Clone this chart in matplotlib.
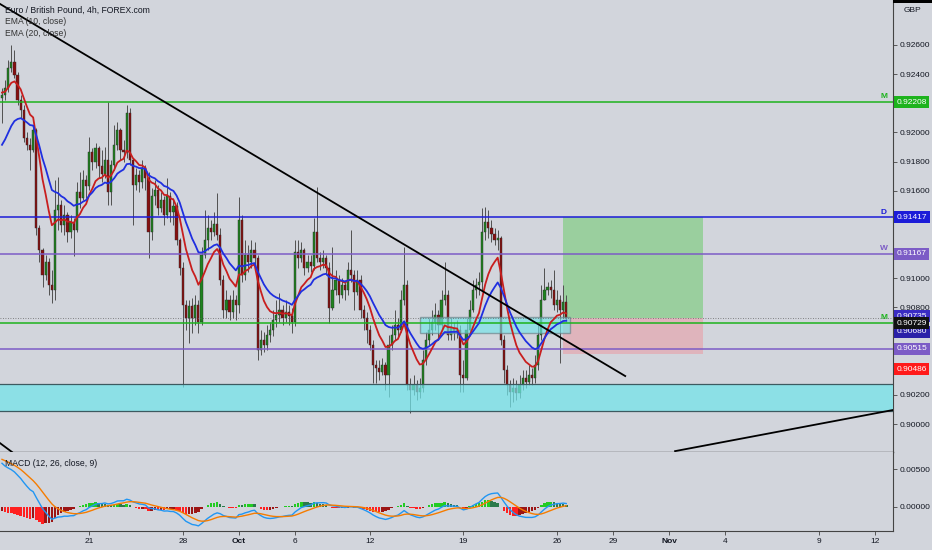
import numpy as np
import matplotlib
matplotlib.use('Agg')
import matplotlib.pyplot as plt
from matplotlib.patches import Rectangle

plt.rcParams['font.family'] = ['Liberation Sans', 'DejaVu Sans']

# EUR/GBP 4h candles, Sep 14 - Oct 26
first_open = 0.92236
closes = [
    0.92256, 0.92304, 0.92441, 0.92483, 0.92393, 0.92222, 0.92153, 0.91961, 0.91913, 0.91879,
    0.92016, 0.91344, 0.91193, 0.91022, 0.91111, 0.90953, 0.90919, 0.91467, 0.91502, 0.91365,
    0.91433, 0.91317, 0.91385, 0.91330, 0.91591, 0.91550, 0.91673, 0.91632, 0.91865, 0.91797,
    0.91893, 0.91769, 0.91714, 0.91810, 0.91591, 0.91776, 0.91913, 0.92016, 0.91879, 0.91865,
    0.92133, 0.91810, 0.91639, 0.91708, 0.91660, 0.91755, 0.91687, 0.91317, 0.91563, 0.91605,
    0.91481, 0.91536, 0.91433, 0.91563, 0.91454, 0.91495, 0.91262, 0.91070, 0.90816, 0.90727,
    0.90809, 0.90727, 0.90816, 0.90699, 0.91159, 0.91262, 0.91344, 0.91317, 0.91371, 0.91296,
    0.90987, 0.90781, 0.90850, 0.90768, 0.90850, 0.90816, 0.91399, 0.91022, 0.91159, 0.91111,
    0.91193, 0.91138, 0.90507, 0.90576, 0.90541, 0.90610, 0.90644, 0.90713, 0.90747, 0.90781,
    0.90727, 0.90768, 0.90740, 0.90699, 0.91179, 0.91138, 0.91193, 0.91070, 0.91111, 0.91083,
    0.91317, 0.91138, 0.91111, 0.91138, 0.91070, 0.90795, 0.90919, 0.90987, 0.90884, 0.90953,
    0.90919, 0.91056, 0.91022, 0.90905, 0.90987, 0.90781, 0.90727, 0.90644, 0.90541, 0.90404,
    0.90383, 0.90356, 0.90404, 0.90335, 0.90541, 0.90610, 0.90679, 0.90644, 0.90850, 0.90953,
    0.90267, 0.90233, 0.90267, 0.90219, 0.90246, 0.90438, 0.90576, 0.90644, 0.90699, 0.90747,
    0.90679, 0.90850, 0.90884, 0.90610, 0.90658, 0.90630, 0.90644, 0.90335, 0.90315, 0.90644,
    0.90781, 0.90919, 0.90953, 0.90974, 0.91317, 0.91385, 0.91344, 0.91303, 0.91262, 0.91275,
    0.90576, 0.90370, 0.90267, 0.90219, 0.90246, 0.90212, 0.90267, 0.90315, 0.90287, 0.90335,
    0.90315, 0.90404, 0.90610, 0.90850, 0.90919, 0.90939, 0.90919, 0.90816, 0.90850, 0.90781,
    0.90836, 0.90727,
]
highs = [
    0.92304, 0.92359, 0.92496, 0.92599, 0.92565, 0.92414, 0.92256, 0.92188, 0.92002, 0.91961,
    0.92037, 0.92030, 0.91365, 0.91207, 0.91159, 0.91138, 0.91056, 0.91673, 0.91694, 0.91536,
    0.91502, 0.91454, 0.91433, 0.91413, 0.91660, 0.91728, 0.91742, 0.91708, 0.91968, 0.91893,
    0.91927, 0.91906, 0.91879, 0.91900, 0.92208, 0.91810, 0.92050, 0.92071, 0.92030, 0.91948,
    0.92188, 0.92167, 0.91824, 0.91755, 0.91742, 0.91810, 0.91776, 0.91728, 0.91618, 0.91673,
    0.91639, 0.91591, 0.91563, 0.91687, 0.91591, 0.91550, 0.91522, 0.91275, 0.91111, 0.90850,
    0.90850, 0.90864, 0.90884, 0.90850, 0.91214, 0.91467, 0.91433, 0.91399, 0.91454, 0.91584,
    0.91344, 0.91022, 0.90919, 0.90884, 0.90919, 0.90884, 0.91557, 0.91433, 0.91262, 0.91227,
    0.91262, 0.91248, 0.91159, 0.90644, 0.90630, 0.90679, 0.90699, 0.90781, 0.90850, 0.90898,
    0.90816, 0.90850, 0.90816, 0.90795, 0.91262, 0.91262, 0.91248, 0.91207, 0.91159, 0.91159,
    0.91413, 0.91625, 0.91179, 0.91193, 0.91159, 0.91111, 0.91214, 0.91056, 0.91022, 0.91001,
    0.90987, 0.91111, 0.91330, 0.91056, 0.91056, 0.91022, 0.90816, 0.90768, 0.90679, 0.90576,
    0.90438, 0.90438, 0.90452, 0.90425, 0.90610, 0.90679, 0.90781, 0.90727, 0.90919, 0.91214,
    0.90987, 0.90315, 0.90335, 0.90301, 0.90315, 0.90507, 0.90630, 0.90727, 0.90781, 0.90829,
    0.90781, 0.90919, 0.91111, 0.90919, 0.90727, 0.90699, 0.90713, 0.90679, 0.90438, 0.90727,
    0.90850, 0.90987, 0.91001, 0.91042, 0.91481, 0.91488, 0.91467, 0.91399, 0.91344, 0.91330,
    0.91289, 0.90610, 0.90404, 0.90301, 0.90315, 0.90301, 0.90335, 0.90370, 0.90370, 0.90404,
    0.90383, 0.90473, 0.90679, 0.90953, 0.91070, 0.90974, 0.90987, 0.91056, 0.90919, 0.90884,
    0.90953, 0.90884,
]
lows = [
    0.92064, 0.92222, 0.92277, 0.92414, 0.92373, 0.92188, 0.92098, 0.91934, 0.91879, 0.91742,
    0.91865, 0.91296, 0.91111, 0.90939, 0.90987, 0.90884, 0.90829, 0.90850, 0.91330, 0.91317,
    0.91296, 0.91248, 0.91275, 0.91152, 0.91317, 0.91481, 0.91536, 0.91550, 0.91605, 0.91742,
    0.91755, 0.91687, 0.91660, 0.91687, 0.91502, 0.91502, 0.91742, 0.91879, 0.91810, 0.91797,
    0.91824, 0.91776, 0.91365, 0.91605, 0.91591, 0.91618, 0.91605, 0.91138, 0.91262, 0.91502,
    0.91433, 0.91454, 0.91365, 0.91413, 0.91385, 0.91365, 0.91227, 0.91022, 0.90253, 0.90644,
    0.90555, 0.90624, 0.90679, 0.90624, 0.90679, 0.91138, 0.91193, 0.91262, 0.91289, 0.91262,
    0.90953, 0.90727, 0.90727, 0.90713, 0.90727, 0.90713, 0.90761, 0.90974, 0.90987, 0.91042,
    0.91070, 0.91090, 0.90438, 0.90473, 0.90493, 0.90507, 0.90562, 0.90603, 0.90665, 0.90699,
    0.90679, 0.90699, 0.90679, 0.90624, 0.90672, 0.91070, 0.91111, 0.91022, 0.91042, 0.91042,
    0.91056, 0.91111, 0.91056, 0.91070, 0.91022, 0.90692, 0.90781, 0.90884, 0.90829, 0.90864,
    0.90850, 0.90884, 0.90974, 0.90781, 0.90884, 0.90727, 0.90644, 0.90555, 0.90507, 0.90281,
    0.90281, 0.90301, 0.90335, 0.90233, 0.90185, 0.90507, 0.90576, 0.90589, 0.90630, 0.90816,
    0.90233, 0.90075, 0.90198, 0.90164, 0.90178, 0.90219, 0.90404, 0.90541, 0.90610, 0.90644,
    0.90576, 0.90644, 0.90816, 0.90576, 0.90576, 0.90576, 0.90589, 0.90219, 0.90219, 0.90301,
    0.90610, 0.90768, 0.90864, 0.90884, 0.90919, 0.91262, 0.91275, 0.91248, 0.91227, 0.91193,
    0.90541, 0.90281, 0.90198, 0.90116, 0.90150, 0.90164, 0.90178, 0.90233, 0.90246, 0.90267,
    0.90267, 0.90281, 0.90370, 0.90576, 0.90850, 0.90884, 0.90864, 0.90781, 0.90768, 0.90418,
    0.90727, 0.90699,
]

# indicator values carried in from before the first visible bar
ema10_seed = 0.92277
ema20_seed = 0.91879
ema12_seed = 0.92240
ema26_seed = 0.91620
signal_seed = 0.00640

# horizontal levels and drawings
level_m_top = 0.92208
level_d = 0.91417
level_w = 0.91167
level_m_low = 0.90693
level_low = 0.90515
last_price = 0.90729
entry_price = 0.90727
target_price = 0.91417
stop_price = 0.90480
demand_zone = (0.90089, 0.90274)
small_box = (0.90624, 0.90734)

# x-axis labels (bar index of each label)
tick_bars = [28, 58, 76, 94, 118, 148, 178, 196, 214, 232, 262, 280]
tick_labels = ['21', '28', 'Oct', '6', '12', '19', '26', '29', 'Nov', '4', '9', '12']
price_ticks = [0.926, 0.924, 0.920, 0.918, 0.916, 0.910, 0.908, 0.902, 0.900]


def ema(values, span, seed):
    alpha = 2.0 / (span + 1)
    out = []
    prev = seed
    for v in values:
        prev = prev + alpha * (v - prev)
        out.append(prev)
    return np.array(out)


closes = np.array(closes)
highs = np.array(highs)
lows = np.array(lows)
opens = np.r_[first_open, closes[:-1]]
x = np.arange(len(closes))

ema10 = ema(closes, 10, ema10_seed)
ema20 = ema(closes, 20, ema20_seed)
macd = ema(closes, 12, ema12_seed) - ema(closes, 26, ema26_seed)
signal = ema(macd, 9, signal_seed)
hist = macd - signal

bg = '#d2d5dc'
xmin, xmax = -0.64, 285.8

fig = plt.figure(figsize=(9.32, 5.5), dpi=100, facecolor=bg)
ax = fig.add_axes([0, 0.17818, 0.95815, 0.82182], facecolor=bg)
axm = fig.add_axes([0, 0.03455, 0.95815, 0.14364], facecolor=bg, sharex=ax)

# --- price pane ---
up = closes >= opens
body_col = np.where(up, '#1f831f', '#871010')
ax.vlines(x, lows, highs, color='#505050', lw=0.7, zorder=2)
ax.bar(x, np.maximum(np.abs(closes - opens), 0.00002), bottom=np.minimum(opens, closes),
       width=0.7, color=body_col, edgecolor='#2a2a2a', linewidth=0.3, zorder=3)

# position tool
pos_left, pos_right = 180.0, 224.9
ax.add_patch(Rectangle((pos_left, entry_price), pos_right - pos_left, target_price - entry_price,
                       facecolor='#97cf9b', edgecolor='none', alpha=0.95, zorder=1.5))
ax.add_patch(Rectangle((pos_left, stop_price), pos_right - pos_left, entry_price - stop_price,
                       facecolor='#e0b3bb', edgecolor='none', alpha=0.95, zorder=1.5))

# zones
ax.add_patch(Rectangle((xmin, demand_zone[0]), xmax - xmin, demand_zone[1] - demand_zone[0],
                       facecolor='#72e5ea', edgecolor='none', alpha=0.72, zorder=4))
ax.axhline(demand_zone[0], color='#3d5a60', lw=0.9, zorder=4.2)
ax.axhline(demand_zone[1], color='#3d5a60', lw=0.9, zorder=4.2)
ax.add_patch(Rectangle((134.1, small_box[0]), 48.1, small_box[1] - small_box[0],
                       facecolor='#72e5ea', edgecolor='#6b7f86', linewidth=1.0, alpha=0.65, zorder=4))

# levels
ax.axhline(level_m_top, color='#1db31d', lw=1.1, zorder=4.5)
ax.axhline(level_d, color='#1c1cd8', lw=1.1, zorder=4.5)
ax.axhline(level_w, color='#7c5cc6', lw=1.1, zorder=4.5)
ax.axhline(level_m_low, color='#1db31d', lw=1.1, zorder=4.5)
ax.axhline(level_low, color='#7c5cc6', lw=1.1, zorder=4.5)
ax.axhline(last_price, color='#666666', lw=0.6, ls=(0, (1, 2)), zorder=4.4)

for lvl, letter, col in [(level_m_top, 'M', '#1db31d'), (level_d, 'D', '#1c1cd8'),
                         (level_w, 'W', '#7c5cc6'), (level_m_low, 'M', '#1db31d')]:
    ax.text(0.9899, lvl + 0.00012, letter, transform=ax.get_yaxis_transform(), color=col,
            fontsize=6, fontweight='bold', ha='center', va='bottom', zorder=8)

# EMAs
ax.plot(x, ema10, color='#c81e1e', lw=1.3, zorder=5)
ax.plot(x, ema20, color='#1f2fe0', lw=1.3, zorder=5)

# trend lines
ax.plot([-0.64, 199.9], [0.92881, 0.90329], color='black', lw=1.3, zorder=6)
ax.plot([215.9, 285.8], [0.89814, 0.90096], color='black', lw=1.3, zorder=6)
ax.plot([-0.64, 3.2], [0.89869, 0.89808], color='black', lw=1.3, zorder=6)

ax.set_xlim(xmin, xmax)
ax.set_ylim(0.89808, 0.92908)
ax.yaxis.tick_right()
ax.set_yticks(price_ticks)
ax.set_yticklabels(['%.5f' % p for p in price_ticks])
ax.tick_params(axis='y', direction='out', length=3, width=0.6, color='#444444',
               labelsize=6, labelcolor='#131722', pad=2)
ax.tick_params(axis='x', bottom=False, labelbottom=False)
for side in ['top', 'left']:
    ax.spines[side].set_visible(False)
ax.spines['right'].set_color('#444444')
ax.spines['bottom'].set_color('#444444')
ax.spines['bottom'].set_linewidth(1.0)

# price label boxes on the axis
tr = ax.get_yaxis_transform()
box_labels = [
    (0.92208, '0.92208', '#1db31d'),
    (0.91417, '0.91417', '#1c1cd8'),
    (0.91167, '0.91167', '#7c5cc6'),
    (0.90633, '0.90680', '#2a20a8'),
    (0.90740, '0.90735', '#3a2cc4'),
    (0.90692, '0.90729', '#111111'),
    (0.90515, '0.90515', '#7c5cc6'),
    (0.90375, '0.90486', '#ff1a1a'),
]
for yv, txt, col in box_labels:
    ax.text(1.004, yv, txt, transform=tr, ha='left', va='center', fontsize=6, color='white',
            bbox=dict(boxstyle='square,pad=0.3', fc=col, ec='none'), clip_on=False, zorder=10)

fig.patches.append(Rectangle((893 / 932, 1 - 3 / 550), 39 / 932, 3 / 550, transform=fig.transFigure,
                             facecolor='black', edgecolor='none'))
fig.text(912 / 932, 1 - 10 / 550, 'GBP', fontsize=6, color='#131722', ha='center', va='center',
         bbox=dict(boxstyle='square,pad=0.2', fc=bg, ec='none'))

fig.text(5 / 932, 1 - 10 / 550, 'Euro / British Pound, 4h, FOREX.com', fontsize=6.2,
         color='#131722', va='center')
fig.text(5 / 932, 1 - 22 / 550, 'EMA (10, close)', fontsize=6.2, color='#333333', va='center')
fig.text(5 / 932, 1 - 33 / 550, 'EMA (20, close)', fontsize=6.2, color='#333333', va='center')

# --- MACD pane ---
hist_col = []
for i, h in enumerate(hist):
    prev = hist[i - 1] if i > 0 else h
    if h >= 0:
        hist_col.append('#22cc22' if h >= prev else '#2b7a4b')
    else:
        hist_col.append('#ff2020' if h < prev else '#9c1515')
axm.bar(x, hist, width=0.8, color=hist_col, zorder=2)
axm.plot(x, macd, color='#2196f3', lw=1.0, zorder=3)
axm.plot(x, signal, color='#f57c00', lw=1.0, zorder=3)
axm.set_ylim(-0.00316, 0.00724)
axm.yaxis.tick_right()
axm.set_yticks([0.005, 0.0])
axm.set_yticklabels(['0.00500', '0.00000'])
axm.tick_params(axis='y', direction='out', length=3, width=0.6, color='#444444',
                labelsize=6, labelcolor='#131722', pad=2)
axm.set_xticks(tick_bars)
axm.set_xticklabels(tick_labels)
axm.tick_params(axis='x', direction='out', length=3, width=0.6, color='#444444',
                labelsize=6, labelcolor='#131722', pad=2)
for lab in axm.get_xticklabels():
    if lab.get_text() in ('Oct', 'Nov'):
        lab.set_fontweight('bold')
for side in ['top', 'left']:
    axm.spines[side].set_visible(False)
axm.spines['right'].set_color('#444444')
axm.spines['bottom'].set_color('#444444')
axm.text(5 / 893, 0.86, 'MACD (12, 26, close, 9)', transform=axm.transAxes, fontsize=6.2,
         color='#131722', va='center')

plt.savefig('out.png', dpi=100, facecolor=bg)
